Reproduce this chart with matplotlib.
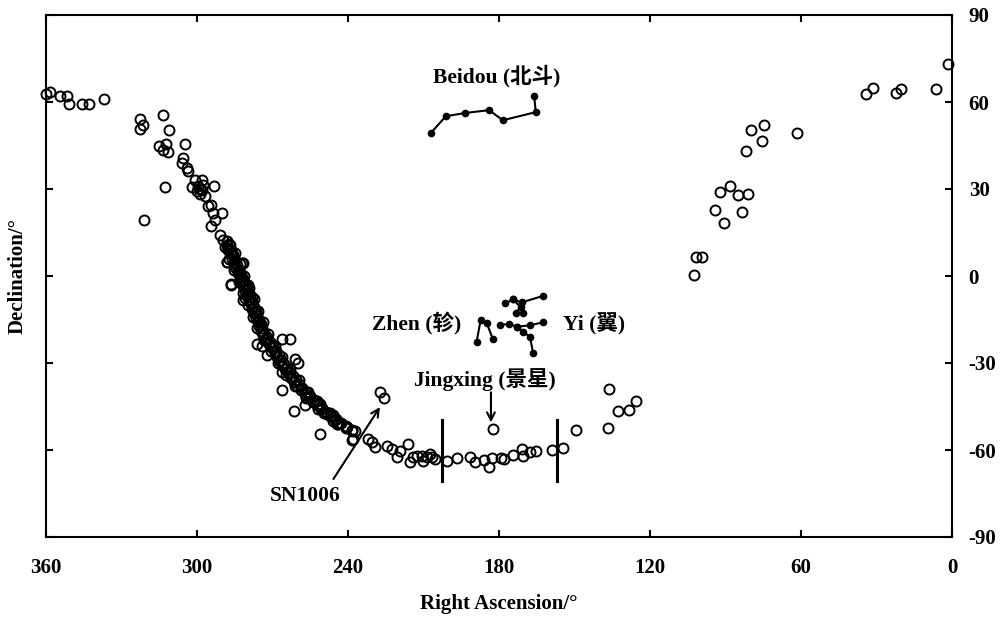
import matplotlib
matplotlib.use('Agg')
import matplotlib.pyplot as plt

# ---------------- data (RA, Dec in degrees) ----------------
pts_northwest = [(360.0, 62.6), (358.4, 63.3), (354.4, 61.9), (351.7, 61.9), (350.9, 59.2),
                 (345.7, 59.2), (342.9, 59.2), (337.0, 60.9)]

pts_descent = [(322.6, 54.2), (321.6, 51.9), (322.6, 50.8), (313.4, 55.5), (311.1, 50.5),
               (315.1, 45.0), (312.4, 45.6), (313.4, 43.6), (311.4, 42.9), (304.6, 45.6),
               (305.4, 40.7), (306.1, 38.8), (304.1, 37.3), (303.5, 36.1), (300.8, 33.0),
               (298.1, 33.0), (299.5, 30.9), (302.1, 30.7), (300.1, 29.2), (298.8, 28.4),
               (296.8, 27.7), (293.2, 31.1), (312.7, 30.7), (321.1, 19.4), (295.5, 24.0),
               (294.6, 24.6), (293.5, 21.7), (290.2, 21.7), (292.8, 19.4), (294.6, 17.3),
               (290.9, 14.2), (289.5, 12.5), (286.9, 10.7), (287.6, 9.0), (286.2, 7.9),
               (281.8, 4.6), (288.0, 4.9), (284.9, 3.2), (282.9, 0.9), (281.6, -1.4),
               (279.6, -3.1), (286.6, -3.1), (280.3, -4.8), (280.9, -7.7), (278.3, -7.2),
               (299.0, 30.0), (298.0, 29.5), (297.5, 31.5)]

pts_band_upper = [(288.1, 12.0), (288.2, 10.8), (287.3, 11.0), (287.6, 9.5), (286.3, 8.8),
                  (286.9, 7.8), (285.6, 7.2), (286.0, 6.0), (284.8, 5.5), (285.4, 4.6),
                  (284.0, 3.8), (284.6, 2.8), (283.3, 2.2), (283.8, 1.2), (282.5, 0.6),
                  (283.1, -0.4), (281.7, -1.2), (282.2, -2.2), (281.0, -2.8), (281.6, -3.6),
                  (280.2, -4.4), (280.8, -5.2), (279.5, -6.0), (280.1, -6.8), (278.8, -7.4),
                  (279.4, -8.4), (278.1, -9.0), (278.7, -9.8), (277.4, -10.6), (278.0, -11.4),
                  (276.7, -12.0), (277.3, -12.9), (276.0, -13.6), (276.6, -14.4), (275.4, -15.0),
                  (275.9, -15.9), (274.7, -16.6), (275.3, -17.4), (274.0, -18.0), (274.6, -18.9),
                  (273.3, -19.6)]

pts_band_lower = [(273.6, -20.4), (272.0, -21.2), (272.6, -21.8), (270.9, -22.7), (271.4, -23.4),
                  (269.7, -24.3), (270.3, -24.9), (268.6, -25.8), (269.2, -26.4), (267.6, -27.3),
                  (268.2, -27.9), (266.6, -28.8), (267.3, -29.3), (265.5, -30.2), (266.1, -30.8),
                  (264.3, -31.7), (264.9, -32.2), (263.1, -33.1), (263.7, -33.6), (261.9, -34.5),
                  (262.5, -35.0), (260.7, -35.9), (261.3, -36.4), (259.5, -37.3), (260.1, -37.8),
                  (258.2, -38.7), (258.7, -39.2), (256.7, -40.1), (257.2, -40.6), (255.2, -41.5),
                  (255.6, -42.0), (253.6, -42.9), (254.1, -43.3), (252.0, -44.2), (252.5, -44.6),
                  (250.3, -45.6), (250.9, -45.9), (248.6, -46.9), (249.4, -47.1), (246.7, -48.2),
                  (247.3, -48.4), (244.7, -49.4), (245.3, -49.6), (242.7, -50.6), (243.4, -50.8),
                  (240.8, -51.8), (240.9, -52.3), (238.5, -53.0), (238.3, -53.6)]

pts_band_edges = [(289.0, 10.0), (284.8, 8.0), (287.1, 6.0), (283.0, 4.0), (285.3, 2.0),
                  (281.2, 0.0), (283.5, -2.0), (279.3, -4.0), (281.6, -6.0), (277.5, -8.0),
                  (279.8, -10.0), (275.6, -12.0), (277.9, -14.0), (273.8, -16.0), (276.1, -18.0),
                  (271.8, -20.0), (273.5, -22.0), (268.9, -24.0), (270.6, -26.0), (266.1, -28.0),
                  (267.8, -30.0), (263.0, -32.0), (264.5, -34.0), (259.5, -36.0), (261.0, -38.0),
                  (255.7, -40.0), (256.7, -42.0), (251.2, -44.0), (251.9, -46.0), (245.9, -48.0),
                  (245.8, -50.0)]

pts_band_scatter = [(288.2, 4.9), (282.2, 4.4), (286.6, -2.8), (281.6, -8.3), (276.3, -23.3),
                    (274.3, -24.0), (266.3, -21.6), (263.0, -21.6), (272.3, -27.3), (261.1, -28.5),
                    (259.8, -29.9), (266.3, -39.4), (266.3, -33.1), (261.3, -46.6), (257.1, -44.6),
                    (252.4, -43.1), (251.1, -54.6), (248.5, -47.5), (243.9, -51.0)]

pts_south = [(247.2, -47.4), (244.5, -51.0), (240.5, -52.1), (237.2, -53.3), (238.5, -56.5),
             (237.9, -56.2), (231.9, -56.2), (230.6, -57.3), (229.3, -59.1), (224.6, -58.5),
             (222.6, -59.6), (220.7, -62.5), (219.3, -60.2), (216.0, -57.9), (215.4, -64.3),
             (214.0, -62.5), (212.7, -61.9), (210.7, -61.9), (210.1, -63.7), (208.7, -62.3),
             (207.5, -61.5), (206.7, -62.5), (205.4, -63.1), (200.5, -63.7), (196.6, -62.7),
             (191.5, -62.3), (189.5, -64.3), (186.0, -63.4), (183.9, -65.7), (182.9, -62.7),
             (179.3, -62.7), (178.0, -63.1), (174.3, -61.6), (171.0, -59.6), (170.3, -61.9),
             (167.7, -60.8), (165.3, -60.4), (159.1, -60.0), (154.7, -59.3), (149.4, -53.2)]

pts_sn1006 = [(227.3, -40.0), (225.7, -42.0)]
pts_jingxing = [(182.5, -52.7)]

pts_east = [(136.2, -38.9), (136.8, -52.4), (132.8, -46.6), (128.5, -46.1), (125.6, -43.1),
            (102.5, 0.3), (101.8, 6.5), (99.5, 6.5), (94.2, 22.6), (90.5, 18.4),
            (92.2, 29.0), (88.2, 31.2), (84.9, 27.8), (81.2, 28.3), (83.6, 22.0),
            (81.9, 43.0), (79.9, 50.2), (75.4, 46.7), (74.7, 51.9), (61.7, 49.4),
            (34.3, 62.9), (31.3, 64.9), (22.3, 63.2), (20.3, 64.4), (6.4, 64.4), (1.7, 73.0)]

# asterisms
beidou_ra = [207.0, 201.1, 193.5, 183.9, 178.5, 165.4, 166.0]
beidou_dec = [49.4, 55.1, 56.2, 57.2, 53.7, 56.5, 61.9]

zhen_ra = [188.9, 187.3, 184.9, 182.5]
zhen_dec = [-22.7, -15.2, -16.2, -21.6]

yi_stars = {'A': (177.6, -9.4), 'B': (174.3, -8.1), 'C': (171.0, -9.1), 'D': (162.6, -6.9),
            'E': (171.4, -10.8), 'F': (173.4, -12.7), 'G': (170.3, -12.9),
            'H': (179.6, -17.0), 'I': (175.9, -16.4), 'J': (173.0, -17.5), 'K': (167.7, -17.0),
            'L': (162.6, -16.0), 'M': (170.3, -19.3), 'N': (167.7, -21.0), 'O': (166.4, -26.7)}
yi_chains = [['A', 'B', 'C', 'D'], ['B', 'E', 'F', 'G'], ['H', 'I', 'J', 'K', 'L'],
             ['J', 'M', 'N', 'O']]

bars_ra = [202.8, 157.1]
bars_dec = (-49.8, -70.6)

x_ticks = [360, 300, 240, 180, 120, 60, 0]
y_ticks = [-90, -60, -30, 0, 30, 60, 90]

# ---------------- figure ----------------
plt.rcParams['font.family'] = ['Liberation Serif', 'Noto Sans CJK SC']
plt.rcParams['font.weight'] = 'bold'

fig = plt.figure(figsize=(10.03, 6.2), dpi=100)
ax = fig.add_axes([46 / 1003, 83 / 620, 906 / 1003, 522 / 620])

all_pts = (pts_northwest + pts_descent + pts_band_upper + pts_band_lower + pts_band_edges
           + pts_band_scatter + pts_south + pts_sn1006 + pts_jingxing + pts_east)
ra = [p[0] for p in all_pts]
dec = [p[1] for p in all_pts]
ax.plot(ra, dec, 'o', mfc='none', mec='black', ms=7.2, mew=1.4, clip_on=False, zorder=3)

star_kw = dict(color='black', lw=1.5, marker='o', ms=4.5)
ax.plot(beidou_ra, beidou_dec, **star_kw)
ax.plot(zhen_ra, zhen_dec, **star_kw)
for chain in yi_chains:
    ax.plot([yi_stars[s][0] for s in chain], [yi_stars[s][1] for s in chain], **star_kw)

for b in bars_ra:
    ax.plot([b, b], list(bars_dec), color='black', lw=2.2)

txt_kw = dict(fontsize=15.5, fontweight='bold', ha='center', va='center')
ax.text(180.8, 68.9, 'Beidou (北斗)', **txt_kw)
ax.text(212.6, -16.3, 'Zhen (轸)', **txt_kw)
ax.text(142.3, -16.6, 'Yi (翼)', **txt_kw)
ax.text(185.6, -35.6, 'Jingxing (景星)', **txt_kw)
ax.text(257.1, -75.8, 'SN1006', **txt_kw)

arr = dict(arrowstyle='->', lw=1.5, color='black', mutation_scale=14, shrinkA=0, shrinkB=0)
ax.annotate('', xy=(227.3, -45.2), xytext=(245.8, -70.0), arrowprops=arr)
ax.annotate('', xy=(183.2, -50.5), xytext=(183.2, -40.1), arrowprops=arr)

ax.set_xlim(360, 0)
ax.set_ylim(-90, 90)
ax.set_xticks(x_ticks)
ax.set_yticks(y_ticks)
ax.set_xticklabels([str(v) for v in x_ticks])
ax.set_yticklabels([str(v) for v in y_ticks])
ax.tick_params(axis='both', direction='in', top=True, bottom=True, left=True, right=True,
               length=5, width=1.5, labelsize=15)
ax.tick_params(axis='y', labelleft=False, labelright=True, pad=12)
ax.tick_params(axis='x', pad=15)
for s in ax.spines.values():
    s.set_linewidth(1.5)

ax.set_xlabel('Right Ascension/°', fontsize=15, fontweight='bold')
ax.set_ylabel('Declination/°', fontsize=15, fontweight='bold')
ax.xaxis.set_label_coords(0.5, -0.128)
ax.yaxis.set_label_coords(-0.031, 0.5)
ax.xaxis.label.set_va('center')
ax.yaxis.label.set_va('center')

fig.savefig('out.png', dpi=100)
